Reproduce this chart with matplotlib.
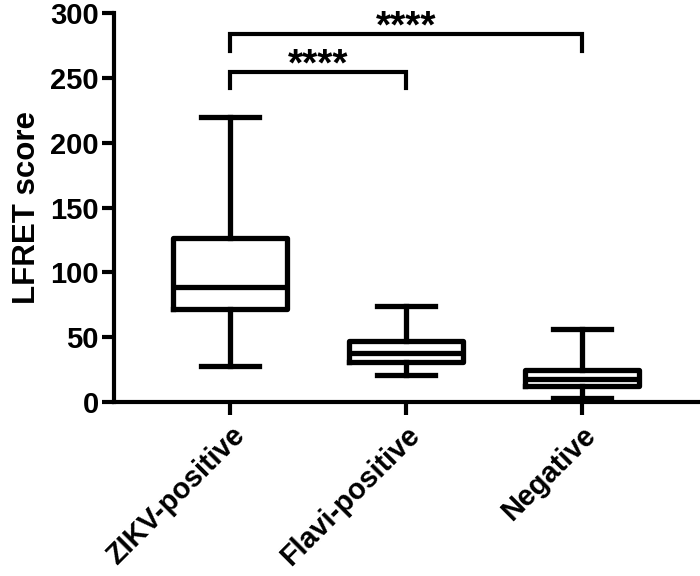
import matplotlib
matplotlib.use("Agg")
import matplotlib.pyplot as plt
import matplotlib.transforms as mtransforms

categories = ["ZIKV-positive", "Flavi-positive", "Negative"]
whislo = [28, 21, 3]
q1 = [71.5, 31, 12]
med = [88.7, 38, 18]
q3 = [126.5, 47, 25]
whishi = [220, 74, 56]
yticks = [0, 50, 100, 150, 200, 250, 300]
sig_pairs = [(0, 1, 255, "****"), (0, 2, 284, "****")]

plt.rcParams['font.family'] = ['Liberation Sans', 'DejaVu Sans']
plt.rcParams['font.weight'] = 'bold'

fig = plt.figure(figsize=(7, 5.76), dpi=100)
ax = fig.add_axes([0.163, 0.302, 0.834, 0.675])

lw = 3.8
stats = []
for i, c in enumerate(categories):
    stats.append(dict(label=c, whislo=whislo[i], q1=q1[i], med=med[i], q3=q3[i],
                      whishi=whishi[i], fliers=[]))
ax.bxp(stats, positions=range(len(categories)), widths=0.65, showfliers=False,
       boxprops=dict(linewidth=lw, color='black'),
       whiskerprops=dict(linewidth=lw, color='black'),
       capprops=dict(linewidth=lw, color='black'),
       medianprops=dict(linewidth=lw, color='black'),
       capwidths=0.33)

for (a, b, y, s) in sig_pairs:
    h = 13
    ax.plot([a, a, b, b], [y - h, y, y, y - h], color='black', lw=3, clip_on=False,
            solid_joinstyle='miter')
    ax.text((a + b) / 2, y - 9, s, ha='center', va='bottom', fontsize=28, fontweight='bold')

ax.set_xlim(-0.66, 2.66)
ax.set_ylim(0, 300)
ax.set_yticks(yticks)
ax.set_yticklabels([str(t) for t in yticks], fontsize=21, fontweight='bold')
ax.set_xticks(range(len(categories)))
ax.set_xticklabels([])
offset = mtransforms.ScaledTranslation(0 / 100, -19 / 100, fig.dpi_scale_trans)
for i, c in enumerate(categories):
    ax.text(i, 0, c, transform=ax.get_xaxis_transform() + offset,
            rotation=45, ha='right', va='top', rotation_mode='anchor',
            fontsize=20.8, fontweight='bold')
ax.set_ylabel("LFRET score", fontsize=22.5, fontweight='bold', labelpad=6)

for sp in ['top', 'right']:
    ax.spines[sp].set_visible(False)
for sp in ['left', 'bottom']:
    ax.spines[sp].set_linewidth(3)
ax.tick_params(axis='both', width=3, length=9, direction='out')
ax.tick_params(axis='y', pad=2)

fig.savefig("out.png", dpi=100)
